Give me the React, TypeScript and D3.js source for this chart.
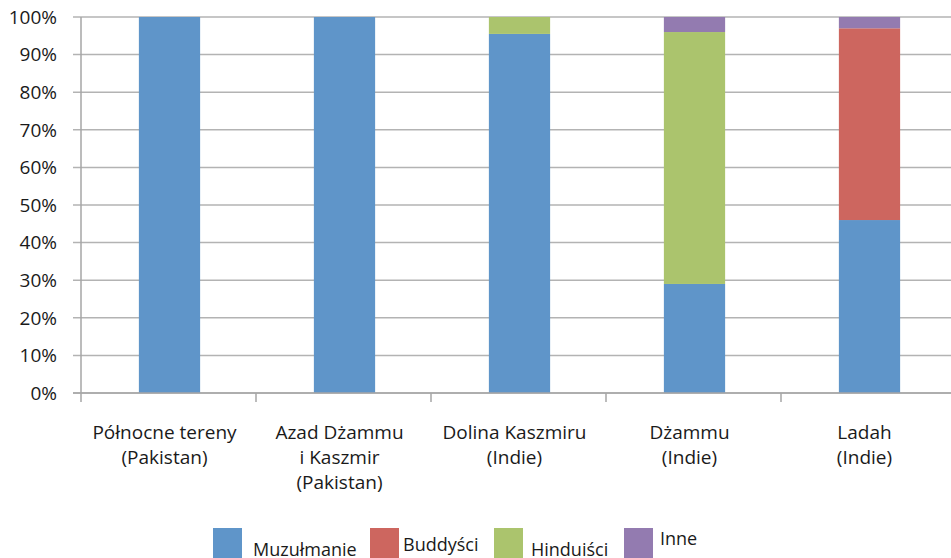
import React from 'react';
import * as d3 from 'd3';

const categories = [
  'Północne tereny\n(Pakistan)',
  'Azad Dżammu\ni Kaszmir\n(Pakistan)',
  'Dolina Kaszmiru\n(Indie)',
  'Dżammu\n(Indie)',
  'Ladah\n(Indie)',
];
const seriesNames = ['Muzułmanie', 'Buddyści', 'Hinduiści', 'Inne'];
const muslims = [100, 100, 95.5, 29, 46];
const buddhists = [0, 0, 0, 0, 51];
const hindus = [0, 0, 4.5, 67, 0];
const others = [0, 0, 0, 4, 3];
const yTicks = [0, 10, 20, 30, 40, 50, 60, 70, 80, 90, 100];

const colors = ['#5f95c9', '#cd665f', '#abc46d', '#937bb0'];
const FONT = '"Open Sans", "Noto Sans", sans-serif';

const W = 951;
const H = 558;
const left = 81;
const top = 17;
const bottom = 393;

const App: React.FC = () => {
  const rows = categories.map((c, i) => ({
    cat: c,
    [seriesNames[0]]: muslims[i],
    [seriesNames[1]]: buddhists[i],
    [seriesNames[2]]: hindus[i],
    [seriesNames[3]]: others[i],
  }));
  const stacked = d3.stack<any>().keys(seriesNames)(rows);

  const x = d3.scaleBand<string>()
    .domain(categories)
    .range([left + 1, 957])
    .paddingInner(0.65)
    .paddingOuter(0.325);
  const y = d3.scaleLinear().domain([0, 100]).range([bottom, top]);

  const step = x.step();
  const bounds = d3.range(categories.length + 1).map((i) => left + i * step);

  // legend layout (squares and uneven text baselines)
  const legendX = [213, 370, 494, 624];
  const legendTextX = [253, 403, 531, 660];
  const legendBase = [556, 551, 556, 545];

  return (
    <div style={{ position: 'absolute', left: 0, top: 0 }}>
      <svg width={W} height={H} style={{ display: 'block', background: '#fff' }}>
        {/* gridlines */}
        {yTicks.map((t) => (
          <line key={t} x1={73} x2={W} y1={y(t)} y2={y(t)} stroke="#b3b3b3" strokeWidth={1.5} />
        ))}
        {/* bars */}
        {stacked.map((s, si) => (
          <g key={s.key} fill={colors[si]}>
            {s.map((d, i) =>
              d[1] - d[0] > 0 ? (
                <rect
                  key={i}
                  x={x(categories[i])}
                  width={x.bandwidth()}
                  y={y(d[1])}
                  height={y(d[0]) - y(d[1])}
                />
              ) : null
            )}
          </g>
        ))}
        {/* axes */}
        <line x1={left} x2={left} y1={top} y2={bottom} stroke="#a6a6a6" strokeWidth={1.5} />
        <line x1={73} x2={W} y1={bottom} y2={bottom} stroke="#a6a6a6" strokeWidth={1.5} />
        {bounds.map((b, i) => (
          <line key={i} x1={b} x2={b} y1={bottom} y2={bottom + 9} stroke="#a6a6a6" strokeWidth={1.5} />
        ))}
        {/* y labels */}
        {yTicks.map((t) => (
          <text
            key={t}
            x={57}
            y={y(t)}
            dy="0.36em"
            textAnchor="end"
            fontFamily={FONT}
            fontSize={19}
            fill="#1a1a1a"
          >
            {t}%
          </text>
        ))}
        {/* category labels */}
        {categories.map((c) => (
          <text
            key={c}
            textAnchor="middle"
            fontFamily={FONT}
            fontSize={19}
            fill="#1a1a1a"
          >
            {c.split('\n').map((line, li) => (
              <tspan key={li} x={x(c)! + x.bandwidth() / 2 - 5} y={439 + li * 25}>
                {line}
              </tspan>
            ))}
          </text>
        ))}
        {/* legend */}
        {seriesNames.map((n, i) => (
          <g key={n}>
            <rect x={legendX[i]} y={528} width={29} height={30} fill={colors[i]} />
            <text x={legendTextX[i]} y={legendBase[i]} fontFamily={FONT} fontSize={18} fill="#1a1a1a">
              {n}
            </text>
          </g>
        ))}
      </svg>
    </div>
  );
};

export default App;
